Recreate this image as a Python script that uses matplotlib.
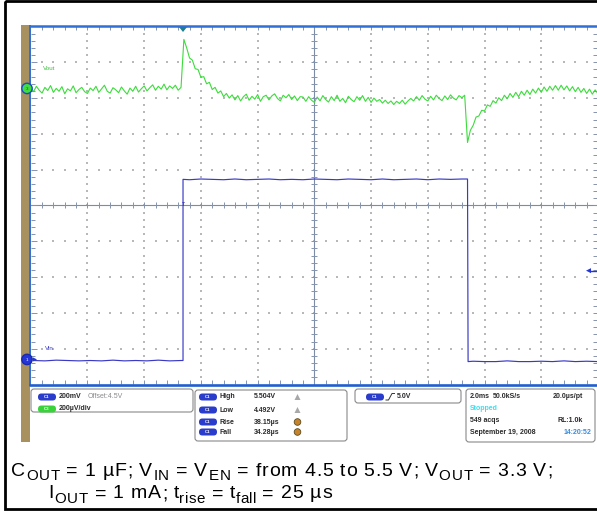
import numpy as np
import matplotlib
matplotlib.use('Agg')
import matplotlib.pyplot as plt
from matplotlib.patches import Rectangle, FancyBboxPatch, Circle, Polygon
from matplotlib.collections import LineCollection
from matplotlib.font_manager import FontProperties

plt.rcParams['font.family'] = ['Liberation Sans', 'DejaVu Sans']

W, H = 597, 511

# ---------------- data (time in ms, amplitude in screen divisions) ----------------
SAMPLE_MS = 0.1
VOUT_DIV = [
    8.29, 8.18, 8.33, 8.22, 8.14, 8.30, 8.21, 8.35, 8.16, 8.27,
    8.19, 8.32, 8.12, 8.26, 8.20, 8.34, 8.15, 8.24, 8.30, 8.18,
    8.13, 8.28, 8.21, 8.33, 8.16, 8.26, 8.36, 8.19, 8.14, 8.29,
    8.23, 8.15, 8.31, 8.20, 8.11, 8.28, 8.19, 8.33, 8.17, 8.26,
    8.34, 8.20, 8.29, 8.37, 8.22, 8.33, 8.25, 8.39, 8.23, 8.34,
    8.27, 8.36, 8.22, 8.30,
    9.64, 9.40, 9.12, 9.06, 8.82, 8.80, 8.58, 8.60, 8.40, 8.44,
    8.24, 8.30, 8.14, 8.20, 8.04, 8.13, 8.00,
    8.09, 7.95, 8.07, 7.92, 8.04, 8.11, 7.94, 8.05, 7.97, 8.10,
    7.91, 8.04, 8.08, 7.95, 8.06, 8.12, 7.99, 7.92, 8.08, 8.01,
    8.10, 7.96, 8.06, 7.93, 8.04,
    8.03, 7.91, 8.04, 7.94, 7.88, 8.03, 7.92, 8.07, 7.96, 7.89,
    8.04, 7.93, 8.08, 7.91, 7.99, 7.87, 8.05, 7.96, 7.90, 8.04,
    7.94, 8.07, 7.91, 8.02, 7.88, 8.00, 7.91, 7.96, 7.86, 7.94,
    7.85, 7.92, 7.82, 7.91, 7.85, 7.94, 7.83, 7.92, 7.99, 7.92,
    8.04, 7.94, 8.07, 7.97, 7.92, 8.05, 7.95, 8.08, 7.99, 7.93,
    8.06, 7.96, 8.09, 8.00, 7.95, 8.07, 8.01, 8.08,
    6.76, 7.10, 7.24, 7.47, 7.50, 7.66, 7.64, 7.81, 7.77, 7.93,
    7.86, 8.01, 7.93, 8.08, 7.98, 8.13, 8.02, 8.16, 8.04, 8.19,
    8.08, 8.22, 8.10, 8.25, 8.14, 8.28, 8.16, 8.31, 8.19, 8.33,
    8.22, 8.35, 8.22, 8.36, 8.23, 8.34, 8.20, 8.32, 8.18, 8.30,
    8.16, 8.27, 8.13, 8.25, 8.11, 8.23, 8.12,
]

VIN_T = [0.10, 0.50, 0.90, 1.30, 1.70, 2.10, 2.50, 2.90, 3.30, 3.70, 4.10, 4.50, 4.90, 5.30,
         5.37, 5.37,
         5.60, 6.00, 6.40, 6.80, 7.20, 7.60, 8.00, 8.40, 8.80, 9.20, 9.60, 10.00, 10.40,
         10.80, 11.20, 11.60, 12.00, 12.40, 12.80, 13.20, 13.60, 14.00, 14.40, 14.80, 15.20,
         15.40, 15.42,
         15.60, 16.00, 16.40, 16.80, 17.20, 17.60, 18.00, 18.40, 18.80, 19.20, 19.60, 20.00]
VIN_DIV = [0.67, 0.66, 0.68, 0.67, 0.66, 0.67, 0.66, 0.68, 0.66, 0.67, 0.66, 0.68, 0.66, 0.67,
           0.67, 5.73,
           5.72, 5.74, 5.73, 5.72, 5.74, 5.72, 5.73, 5.74, 5.72, 5.73, 5.72, 5.74, 5.73,
           5.72, 5.74, 5.73, 5.72, 5.74, 5.72, 5.73, 5.74, 5.72, 5.74, 5.73, 5.74,
           5.74, 0.64,
           0.65, 0.64, 0.64, 0.66, 0.64, 0.64, 0.65, 0.64, 0.66, 0.64, 0.65, 0.64]

X_DIVS, Y_DIVS, MS_PER_DIV = 10, 10, 2.0
TRIG_MS = 5.37
VOUT_REF_DIV = 8.27
VIN_REF_DIV = 0.70
TRIG_LEVEL_DIV = 3.18

SETTINGS_ROW1 = ("C1", "200mV", "Offset:4.5V")
SETTINGS_ROW2 = ("C3", "200µV/div")
MEAS_NAMES = ["High", "Low", "Rise", "Fall"]
MEAS_VALUES = ["5.504V", "4.492V", "38.15µs", "34.28µs"]
TRIG_TEXT = "5.0V"
# caption runs: (text, is_subscript)
CAPTION1 = [("C", False), ("OUT", True), (" = 1 µF; V", False), ("IN", True), (" = V", False),
            ("EN", True), (" = from 4.5 to 5.5 V; V", False), ("OUT", True), (" = 3.3 V;", False)]
CAPTION2 = [("I", False), ("OUT", True), (" = 1 mA; t", False), ("rise", True), (" = t", False),
            ("fall", True), (" = 25 µs", False)]

# ---------------- geometry (pixels) ----------------
PL, PR, PT, PB = 30.7, 598.0, 26.5, 384.5
dx = (PR - PL) / X_DIVS
dy = (PB - PT) / Y_DIVS

def px(t):
    return PL + t / MS_PER_DIV * dx

def py(d):
    return PB - d * dy

fig = plt.figure(figsize=(W / 100, H / 100), dpi=100)
fig.patch.set_facecolor('white')

def pix_axes(z):
    a = fig.add_axes([0, 0, 1, 1])
    a.set_xlim(0, W)
    a.set_ylim(H, 0)
    a.axis('off')
    a.patch.set_alpha(0)
    a.set_zorder(z)
    return a

axb = pix_axes(0)
ax = fig.add_axes([PL / W, (H - PB) / H, (PR - PL) / W, (PB - PT) / H])
ax.set_zorder(1)
axo = pix_axes(2)

# ---------------- background ----------------
axb.add_patch(Rectangle((5.4, 1.2), 700, 508.3, fill=False, ec='black', lw=2.0))
axb.add_patch(Rectangle((21, 25), 8.5, 417, fc='#A8915E', ec='none'))

def rbox(x0, y0, x1, y1):
    axb.add_patch(FancyBboxPatch((x0, y0), x1 - x0, y1 - y0,
                                 boxstyle="round,pad=0,rounding_size=3",
                                 fc='white', ec='#8A8A8A', lw=0.8))

rbox(31, 389, 193, 412)
rbox(195, 390, 347, 441)
rbox(355, 389, 461, 403)
rbox(466, 389, 595, 442)

def pill(x, y, color, label):
    w, h = 18, 7
    axb.add_patch(FancyBboxPatch((x, y - h / 2), w, h,
                                 boxstyle="round,pad=0,rounding_size=3.4",
                                 fc=color, ec='none'))
    axb.text(x + w / 2, y + 0.3, label, color='white', fontsize=3.2,
             ha='center', va='center', fontweight='bold')

FS = 5.0
TXT = '#2A2A2A'
pill(38, 397, '#2A3CCB', SETTINGS_ROW1[0])
axb.text(59, 397, SETTINGS_ROW1[1], fontsize=FS, fontweight='bold', color=TXT, va='center')
axb.text(88, 397, SETTINGS_ROW1[2], fontsize=FS, color='#8A8A8A', va='center')
pill(38, 409, '#3AD23A', SETTINGS_ROW2[0])
axb.text(59, 409, SETTINGS_ROW2[1], fontsize=FS, fontweight='bold', color=TXT, va='center')

rows = [397, 410, 422, 432]
for i, (nm, val) in enumerate(zip(MEAS_NAMES, MEAS_VALUES)):
    y = rows[i]
    pill(199, y, '#2A3CCB', "C1")
    axb.text(220, y, nm, fontsize=FS, fontweight='bold', color=TXT, va='center')
    axb.text(254, y, val, fontsize=FS, fontweight='bold', color=TXT, va='center')
    if i < 2:
        axb.add_patch(Polygon([[294.5, y + 3], [300.5, y + 3], [297.5, y - 3]],
                              closed=True, fc='#A8A8A8', ec='none'))
    else:
        axb.add_patch(Circle((297.5, y), 3.3, fc='#C7832A', ec='#5A4A20', lw=0.6))

pill(366, 397, '#2A3CCB', "C1")
axb.plot([386, 388.5, 392, 394.5], [400, 400, 393.5, 393.5], color='#333333', lw=0.7)
axb.text(397, 397, TRIG_TEXT, fontsize=FS, fontweight='bold', color=TXT, va='center')

axb.text(470, 397, "2.0ms", fontsize=FS, fontweight='bold', color=TXT, va='center')
axb.text(493, 397, "50.0kS/s", fontsize=FS, fontweight='bold', color=TXT, va='center')
axb.text(583, 397, "20.0µs/pt", fontsize=FS, fontweight='bold', color=TXT, va='center', ha='right')
axb.text(470, 408.5, "Stopped", fontsize=FS, fontweight='bold', color='#38E0F0', va='center')
axb.text(470, 420, "549 acqs", fontsize=FS, fontweight='bold', color=TXT, va='center')
axb.text(583, 420, "RL:1.0k", fontsize=FS, fontweight='bold', color=TXT, va='center', ha='right')
axb.text(470, 432, "September 19, 2008", fontsize=FS, fontweight='bold', color=TXT, va='center')
axb.text(591, 432, "14:20:52", fontsize=FS, fontweight='bold', color='#3A8ADD', va='center', ha='right')

# caption: characters laid out so that each line spans the same width as in the reference
renderer = fig.canvas.get_renderer()
CAP_FS, SUB_R, SUB_DY = 14.0, 0.78, 4.2

def adv(c, size):
    fp = FontProperties(family=['Liberation Sans', 'DejaVu Sans'], size=size)
    w1 = renderer.get_text_width_height_descent("x" + c + "x", fp, ismath=False)[0]
    w0 = renderer.get_text_width_height_descent("xx", fp, ismath=False)[0]
    return w1 - w0

def draw_caption(runs, x0, x1, base):
    items = []
    for text, sub in runs:
        s = CAP_FS * SUB_R if sub else CAP_FS
        for c in text:
            items.append((c, s, sub, adv(c, s)))
    natural = sum(it[3] for it in items)
    k = (x1 - x0) / natural
    x = x0
    for c, s, sub, a in items:
        if c != ' ':
            axb.text(x, base + (SUB_DY if sub else 0), c, fontsize=s, color='black',
                     va='baseline', ha='left')
        x += a * k

draw_caption(CAPTION1, 10.5, 553, 475.5)
draw_caption(CAPTION2, 48.5, 333, 498.5)

# ---------------- scope screen ----------------
ax.set_xlim(0, X_DIVS * MS_PER_DIV)
ax.set_ylim(0, Y_DIVS)
ax.set_facecolor('white')
for s in ax.spines.values():
    s.set_visible(False)
ax.set_xticks([])
ax.set_yticks([])

gx, gy = [], []
for i in range(1, X_DIVS):
    if i == X_DIVS // 2:
        continue
    for j in range(1, Y_DIVS * 5):
        gx.append(i * MS_PER_DIV)
        gy.append(j / 5)
for j in range(1, Y_DIVS):
    if j == Y_DIVS // 2:
        continue
    for i in range(1, X_DIVS * 5):
        gx.append(i * MS_PER_DIV / 5)
        gy.append(j)
ax.scatter(gx, gy, s=0.7, marker='s', color='#B8B8B8', linewidths=0, zorder=1)
ax.axvline(X_DIVS / 2 * MS_PER_DIV, color='#7D8CA6', lw=0.8, zorder=1)
ax.axhline(Y_DIVS / 2, color='#7D8CA6', lw=0.8, zorder=1)

t_out = np.arange(len(VOUT_DIV)) * SAMPLE_MS
ax.plot(t_out, VOUT_DIV, color='#3CDC3C', lw=0.8, zorder=3)
ax.plot(VIN_T, VIN_DIV, color='#3A3AC6', lw=0.85, zorder=3)

# ---------------- overlay: ticks, frame, markers ----------------
segs = []
cx, cy = px(X_DIVS / 2 * MS_PER_DIV), py(Y_DIVS / 2)
for k in range(1, X_DIVS * 5):
    x = PL + k * dx / 5
    segs.append([(x, PT), (x, PT + 4)])
    segs.append([(x, PB), (x, PB - 4)])
    segs.append([(x, cy - 3), (x, cy + 3)])
for k in range(1, Y_DIVS * 5):
    y = PT + k * dy / 5
    L = 6 if k % 5 == 0 else 4
    segs.append([(PL, y), (PL + L, y)])
    segs.append([(W, y), (W - 4, y)])
    segs.append([(cx - 3, y), (cx + 3, y)])
axo.add_collection(LineCollection(segs, colors='#8593AD', linewidths=0.7))

axo.plot([29, W + 2], [26.3, 26.3], color='#2F6FD6', lw=1.8, solid_capstyle='butt')
axo.plot([29.6, 29.6], [25.5, 386], color='#2F6FD6', lw=1.4, solid_capstyle='butt')
axo.plot([29, W + 2], [385.2, 385.2], color='#1F5FCF', lw=1.9, solid_capstyle='butt')

# channel ground markers
yv = py(VOUT_REF_DIV)
axo.add_patch(Circle((27, yv), 5.2, fc='#3FDD3F', ec='#1A4CC8', lw=1.0, zorder=5))
axo.text(27, yv + 0.3, "3", fontsize=3.2, color='#1A5A1A', ha='center', va='center', zorder=6)
yi = py(VIN_REF_DIV)
axo.add_patch(Circle((27, yi), 5.2, fc='#2436DA', ec='#1A2AAA', lw=1.0, zorder=5))
axo.text(27, yi + 0.3, "1", fontsize=3.2, color='white', ha='center', va='center', zorder=6)
axo.add_patch(Polygon([[33, yi - 2], [33, yi + 2], [37, yi]], closed=True, fc='#2436DA', ec='none'))

axo.text(43, 69, "Vout", fontsize=4.5, color='#3CBF3C', va='center')
axo.text(45, 349, "Vin", fontsize=4.5, color='#3A3AC6', va='center')

tx = px(TRIG_MS)
axo.add_patch(Polygon([[tx - 4, 27], [tx + 4, 27], [tx, 32]], closed=True, fc='#1E7F8F', ec='none', zorder=5))
axo.text(tx, cy - 0.5, "T", fontsize=3.5, color='#3A3AC6', ha='center', va='center', fontweight='bold')

yt = py(TRIG_LEVEL_DIV)
axo.plot([590, W], [yt, yt], color='#2436DA', lw=1.0)
axo.add_patch(Polygon([[586, yt], [591, yt - 2.5], [591, yt + 2.5]], closed=True, fc='#2436DA', ec='none'))

fig.savefig('out.png', dpi=100)
